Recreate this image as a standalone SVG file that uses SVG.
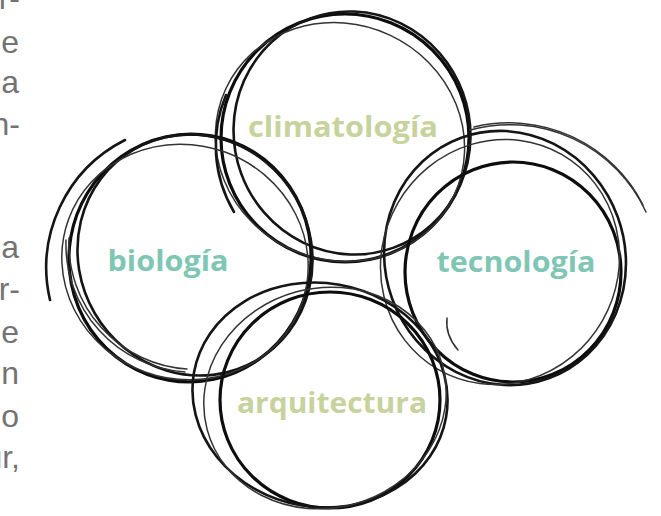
<svg xmlns="http://www.w3.org/2000/svg" width="661" height="516" viewBox="0 0 661 516">
  <style>
    .ink{fill:none;stroke:#0d0d0d;stroke-width:3.2;stroke-linecap:round}
    .ink2{fill:none;stroke:#151515;stroke-width:2.6;stroke-linecap:round}
    .pencil{fill:none;stroke:#333;stroke-width:1.5;stroke-linecap:round}
    .lbl{font-family:"Open Sans","Liberation Sans",sans-serif;font-weight:700;font-size:29px}
    .green{fill:#c6d39c}
    .teal{fill:#80c6b5}
    .side{font-family:"Liberation Sans",sans-serif;font-size:32px;fill:#737373;text-anchor:end}
  </style>
  <rect width="661" height="516" fill="#ffffff"/>

  <!-- cropped paragraph at the left edge -->
  <g id="side-text" class="side">
    <text x="20" y="9">r-</text>
    <text x="19" y="53">e</text>
    <text x="19" y="93">a</text>
    <text x="20" y="135">n-</text>
    <text x="19" y="258">a</text>
    <text x="20" y="300">r-</text>
    <text x="19" y="343">e</text>
    <text x="19" y="384">n</text>
    <text x="19" y="427">o</text>
    <text x="20" y="468">ur,</text>
  </g>

  <!-- climatologia ring -->
  <g id="climatologia">
    <ellipse class="ink" cx="345" cy="138" rx="124" ry="124"/>
    <ellipse class="ink2" cx="352" cy="133" rx="118" ry="122" transform="rotate(-20 352 133)"/>
    <ellipse class="pencil" cx="340" cy="142" rx="126" ry="118" transform="rotate(25 340 142)"/>
    <path class="ink2" d="M226 95 A130 130 0 0 0 234 212"/>
    <text class="lbl green" x="343" y="137" text-anchor="middle" textLength="190" lengthAdjust="spacingAndGlyphs">climatología</text>
  </g>

  <!-- biologia ring -->
  <g id="biologia">
    <ellipse class="ink" cx="190" cy="258" rx="121" ry="124" transform="rotate(10 190 258)"/>
    <ellipse class="ink2" cx="195" cy="255" rx="116" ry="122" transform="rotate(-30 195 255)"/>
    <ellipse class="pencil" cx="185" cy="262" rx="124" ry="117" transform="rotate(20 185 262)"/>
    <path class="ink2" d="M125 140 A143 143 0 0 0 50 300"/>
    <path class="pencil" d="M66 240 A128 128 0 0 0 185 372"/>
    <path class="pencil" d="M69 238 A126 126 0 0 0 187 369"/>
    <text class="lbl teal" x="168" y="271" text-anchor="middle" textLength="121" lengthAdjust="spacingAndGlyphs">biología</text>
  </g>

  <!-- tecnologia ring -->
  <g id="tecnologia">
    <ellipse class="ink" cx="513" cy="272" rx="108" ry="110"/>
    <ellipse class="ink2" cx="505" cy="258" rx="120" ry="128" transform="rotate(-20 505 258)"/>
    <ellipse class="pencil" cx="500" cy="262" rx="118" ry="124" transform="rotate(30 500 262)"/>
    <path class="pencil" d="M470 130 A150 150 0 0 1 646 212"/>
    <path class="pencil" d="M474 127 A150 150 0 0 1 643 205"/>
    <path class="pencil" d="M447 318 Q445 335 458 350"/>
    <text class="lbl teal" x="516" y="272" text-anchor="middle" textLength="159" lengthAdjust="spacingAndGlyphs">tecnología</text>
  </g>

  <!-- arquitectura ring -->
  <g id="arquitectura">
    <ellipse class="ink" cx="330" cy="400" rx="110" ry="108"/>
    <ellipse class="ink2" cx="320" cy="395" rx="128" ry="112" transform="rotate(10 320 395)"/>
    <ellipse class="pencil" cx="325" cy="398" rx="122" ry="110" transform="rotate(-15 325 398)"/>
    <text class="lbl green" x="332" y="413" text-anchor="middle" textLength="190" lengthAdjust="spacingAndGlyphs">arquitectura</text>
  </g>
</svg>
